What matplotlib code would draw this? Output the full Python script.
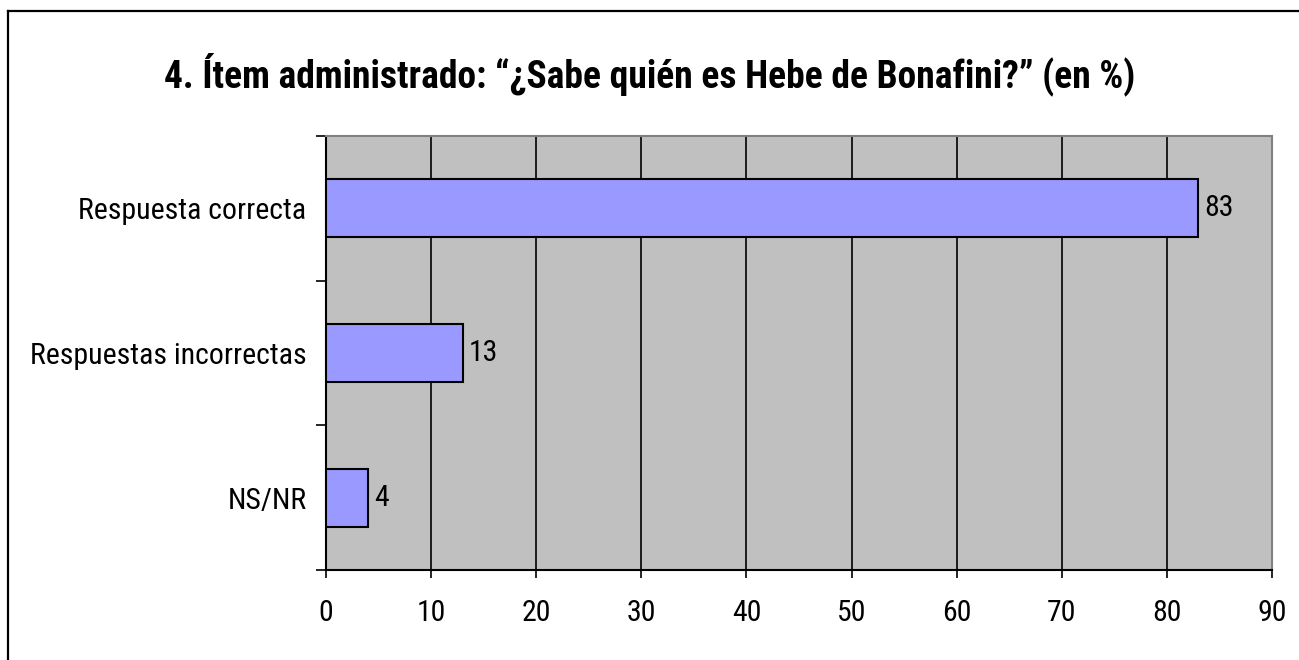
import matplotlib.pyplot as plt
from matplotlib.lines import Line2D

categorias = ['Respuesta correcta', 'Respuestas incorrectas', 'NS/NR']
valores = [83, 13, 4]
xticks = [0, 10, 20, 30, 40, 50, 60, 70, 80, 90]

plt.rcParams['font.family'] = ['Roboto Condensed', 'Archivo Narrow', 'Liberation Sans', 'DejaVu Sans']

fig = plt.figure(figsize=(12.99, 6.6), dpi=100)
ax = fig.add_axes([326 / 1299, 1 - 570 / 660, (1272 - 326) / 1299, (570 - 136) / 660])
ax.set_facecolor('#C0C0C0')

pos = list(range(len(categorias)))
bars = ax.barh(pos, valores, height=0.4, color='#9999FF', edgecolor='black', linewidth=1.5, zorder=3)
for b, v in zip(bars, valores):
    ax.text(b.get_width() + 0.6, b.get_y() + b.get_height() / 2, str(v),
            va='center', ha='left', fontsize=21.5, zorder=4)

ax.set_xlim(0, 90)
ax.set_ylim(2.5, -0.5)
ax.set_xticks(xticks)
ax.set_xticklabels([str(t) for t in xticks], fontsize=21.5)
ax.tick_params(axis='x', length=6, width=1.2, pad=15, direction='out')

ax.set_yticks(pos)
ax.set_yticklabels(categorias, fontsize=21.5)
ax.tick_params(axis='y', length=0, pad=14)
ax.set_yticks([-0.5, 0.5, 1.5, 2.5], minor=True)
ax.tick_params(axis='y', which='minor', length=7, width=1.2, direction='out')

for x in xticks[1:-1]:
    ax.axvline(x, color='black', linewidth=1.2, zorder=1)

ax.spines['left'].set_color('black')
ax.spines['bottom'].set_color('black')
ax.spines['left'].set_linewidth(1.5)
ax.spines['bottom'].set_linewidth(1.5)
ax.spines['top'].set_color('#808080')
ax.spines['right'].set_color('#808080')
ax.spines['top'].set_linewidth(1.5)
ax.spines['right'].set_linewidth(1.5)

fig.text(0.5, 1 - 74 / 660, '4. Ítem administrado: “¿Sabe quién es Hebe de Bonafini?” (en %)',
         ha='center', va='center', fontsize=27, fontweight='bold')

# marco exterior
fig.add_artist(Line2D([8 / 1299, 8 / 1299], [0, 1 - 11 / 660], color='black', linewidth=1.6,
                      transform=fig.transFigure))
fig.add_artist(Line2D([8 / 1299, 1], [1 - 11 / 660, 1 - 11 / 660], color='black', linewidth=1.6,
                      transform=fig.transFigure))

fig.savefig('out.png', dpi=100)
